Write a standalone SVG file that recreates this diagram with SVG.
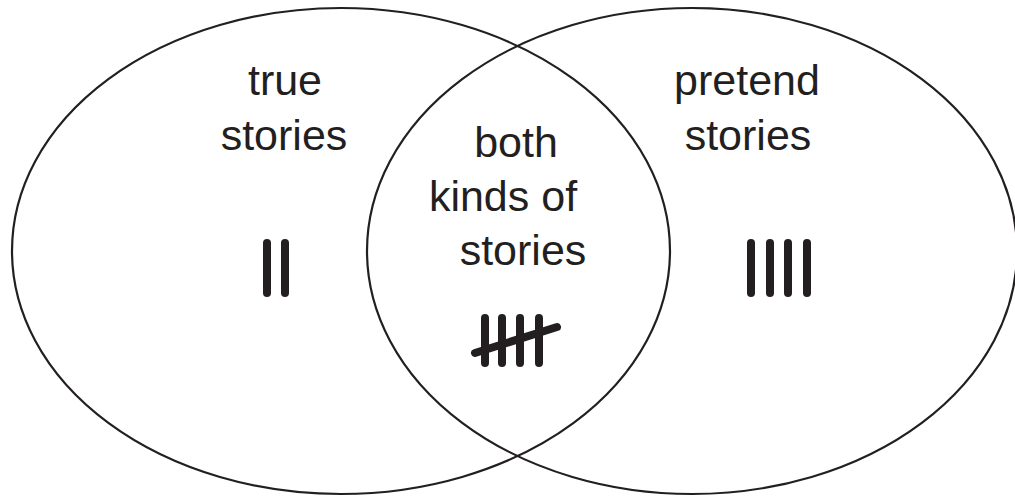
<svg xmlns="http://www.w3.org/2000/svg" width="1015" height="496" viewBox="0 0 1015 496">
<style>
.set{fill:none;stroke:#231f20;stroke-width:2.2}
.lbl{font-family:"Liberation Sans",Arial,sans-serif;font-size:43px;fill:#231f20;text-anchor:middle}
.tally{stroke:#231f20;stroke-width:8;stroke-linecap:round;fill:none}
</style>
<rect width="1015" height="496" fill="#fff"/>
<g id="set-true">
<ellipse class="set" cx="341" cy="251" rx="329" ry="243"/>
</g>
<g id="set-pretend">
<ellipse class="set" cx="692" cy="251" rx="325" ry="243"/>
</g>
<g id="label-true">
<text class="lbl" x="285" y="95">true</text>
<text class="lbl" x="284" y="150">stories</text>
</g>
<g id="label-pretend">
<text class="lbl" x="747" y="95">pretend</text>
<text class="lbl" x="748" y="150">stories</text>
</g>
<g id="label-both">
<text class="lbl" x="516" y="157">both</text>
<text class="lbl" x="503" y="211">kinds of</text>
<text class="lbl" x="523" y="265">stories</text>
</g>
<g id="tally-true">
<path class="tally" d="M267 243V293M285 243V293"/>
</g>
<g id="tally-pretend">
<path class="tally" d="M751 243V293M770 243V293M788 243V293M807 243V293"/>
</g>
<g id="tally-both">
<path class="tally" d="M485 318V363M502 318V363M520 318V363M539 318V363M475 353L557 327"/>
</g>
</svg>
